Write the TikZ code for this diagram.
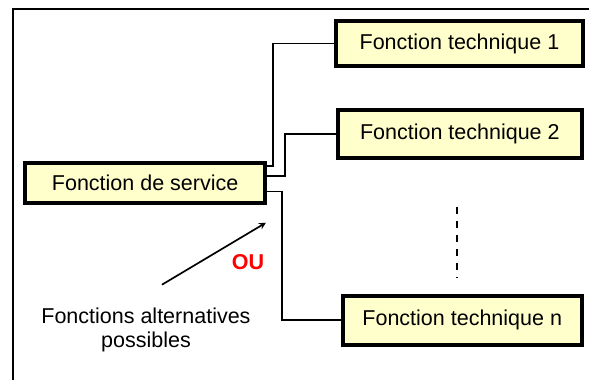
\documentclass[tikz,border=0pt]{standalone}
\usepackage{fontspec}
\setmainfont{Liberation Sans}
\usetikzlibrary{arrows}
\definecolor{paleyellow}{RGB}{255, 255, 204}
\definecolor{purered}{RGB}{255, 0, 0}

\begin{document}
\begin{tikzpicture}[
        txt/.style={font=\fontsize{15.3pt}{17.1pt}\selectfont},
        fbox/.style={txt, draw=black, fill=paleyellow, line width=2.8pt, inner sep=0pt},
        link/.style={line width=1.2pt}]
            \useasboundingbox                                             ( 0.00, 0.00) rectangle (14.73, 9.50);
            \draw[line width=1.4pt]                                       ( 0.33, 0.00) -- ( 0.33, 9.28) -- (14.73, 9.28);
            % boxes
            \node[fbox, minimum width=6.000cm, minimum height=1.000cm] (service) at ( 3.63, 4.93) {Fonction de service};
            \node[fbox, minimum width=6.175cm, minimum height=1.125cm] (tech1)   at (11.49, 8.41) {Fonction technique 1};
            \node[fbox, minimum width=6.100cm, minimum height=1.200cm] (tech2)   at (11.50, 6.15) {Fonction technique 2};
            \node[fbox, minimum width=5.975cm, minimum height=1.225cm] (techn)   at (11.56, 1.49) {Fonction technique n};
            % links
            \draw[link] ([yshift=-0.125cm]service.north east) -- ++(0.150,0) |- (tech1.west);
            \draw[link] ([yshift= 0.160cm]service.east)       -- ++(0.450,0) |- (tech2.west);
            \draw[link] ([yshift=-0.220cm]service.east)       -- ++(0.375,0) |- (techn.west);
            \draw[line width=1.4pt, dash pattern=on 5pt off 5pt]          (11.43, 4.33) -- (11.43, 2.55);
            % alternatives
            \node[txt, align=center, inner sep=0pt] (alt) at ( 3.65, 1.25) {Fonctions alternatives\\possibles};
            \node[txt, text=purered, inner sep=0pt] (ou)  at ( 6.20, 2.94) {\bfseries OU};
            \coordinate (altfoot) at ( 4.05, 2.38);
            \coordinate (alttip)  at ( 6.65, 3.93);
            \draw[link, -stealth] (altfoot) -- (alttip);
        \end{tikzpicture}
\end{document}
